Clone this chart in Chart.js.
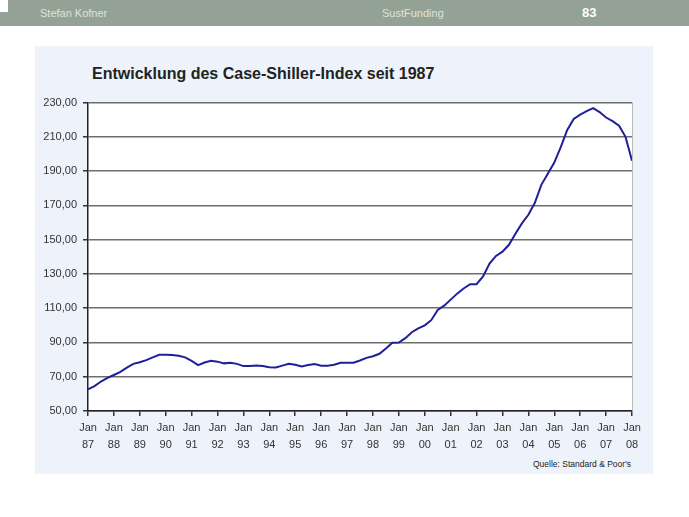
<!DOCTYPE html>
<html>
<head>
<meta charset="utf-8">
<script src="https://cdn.jsdelivr.net/npm/chart.js@4.4.1/dist/chart.umd.min.js"></script>
<style>
  body { margin: 0; width: 689px; height: 517px; background: #fff; position: relative; overflow: hidden; font-family: "Liberation Sans", Arial, sans-serif; }
  .kopf { position: absolute; left: 0; top: 0; width: 689px; height: 26px; background: #94a295; }
  .kopf span { position: absolute; top: 7px; font-size: 11px; color: #dde4dd; }
  .ecke { position: absolute; left: 0; top: 0; width: 8px; height: 12px; background: #fff; }
  .panel { position: absolute; left: 35px; top: 46px; width: 618px; height: 428px; background: #eef3fb; }
  .titel { position: absolute; left: 92px; top: 65px; font-size: 16px; font-weight: bold; color: #222; }
  .quelle { position: absolute; left: 533px; top: 459px; font-size: 8.5px; color: #222; }
  .caixa { position: absolute; left: 35px; top: 90px; width: 618px; height: 361px; }
</style>
</head>
<body>
<div class="kopf">
  <div class="ecke"></div>
  <span style="left:40px">Stefan Kofner</span>
  <span style="left:382px">SustFunding</span>
  <span style="left:582px; top:5px; font-size:13px; font-weight:bold; color:#fff">83</span>
</div>
<div class="panel"></div>
<div class="titel">Entwicklung des Case-Shiller-Index seit 1987</div>
<div class="quelle">Quelle: Standard &amp; Poor's</div>
<div class="caixa">
  <canvas id="grafico"></canvas>
</div>
<script>
// Quartale Jan 87 .. Jan 08
const meses = ['Jan', 'Apr', 'Jul', 'Okt'];
const anos = [];
for (let a = 1987; a <= 2007; a++) anos.push(a);

const rotulos = [];
anos.forEach(a => meses.forEach(m => rotulos.push(m + ' ' + String(a).slice(2))));
rotulos.push('Jan 08');

// Case-Shiller-Index
const indice = [
  62.6, 64.5, 67.2, 69.3,
  71.0, 72.8, 75.3, 77.5,
  78.5, 79.7, 81.3, 82.8,
  82.8, 82.7, 82.2, 81.3,
  79.2, 76.8, 78.3, 79.3,
  78.8, 77.8, 78.2, 77.5,
  76.2, 76.2, 76.6, 76.3,
  75.6, 75.4, 76.5, 77.6,
  77.0, 76.0, 76.8, 77.4,
  76.4, 76.4, 77.0, 78.2,
  78.2, 78.2, 79.5, 81.0,
  82.0, 83.4, 86.5, 89.8,
  90.0, 92.5, 96.0, 98.2,
  100.0, 103.0, 109.0, 111.5,
  115.0, 118.5, 121.5, 124.0,
  124.0, 128.5, 136.0, 140.5,
  143.0, 147.0, 153.5, 159.5,
  164.5, 171.5, 182.0, 188.5,
  195.0, 204.0, 214.0, 220.5,
  223.0, 225.0, 226.8, 224.5,
  221.3, 219.2, 216.5, 210.0,
  196.0
];

const canvas = document.getElementById('grafico');
canvas.width = 618;
canvas.height = 361;

// weisser Hintergrund der Zeichenfläche und Rahmen rechts
const fundoBranco = {
  id: 'fundoBranco',
  beforeDraw(chart) {
    const { ctx, chartArea } = chart;
    ctx.save();
    ctx.fillStyle = '#ffffff';
    ctx.fillRect(chartArea.left, chartArea.top, chartArea.right - chartArea.left, chartArea.bottom - chartArea.top);
    ctx.restore();
  },
  afterDatasetsDraw(chart) {
    const { ctx, chartArea } = chart;
    ctx.save();
    ctx.strokeStyle = '#b8b8b8';
    ctx.lineWidth = 1;
    ctx.beginPath();
    ctx.moveTo(chartArea.right + 0.5, chartArea.top);
    ctx.lineTo(chartArea.right + 0.5, chartArea.bottom);
    ctx.stroke();
    ctx.restore();
  }
};

new Chart(canvas.getContext('2d'), {
  type: 'line',
  data: {
    labels: rotulos,
    datasets: [{
      data: indice,
      borderColor: '#1f1f99',
      borderWidth: 2,
      pointRadius: 0,
      tension: 0,
      fill: false
    }]
  },
  options: {
    responsive: false,
    animation: false,
    layout: { padding: { left: 0, right: 21, top: 10, bottom: 0 } },
    plugins: {
      legend: { display: false },
      tooltip: { enabled: false }
    },
    scales: {
      y: {
        min: 50,
        max: 230,
        afterFit(scale) { scale.width = 53; },
        ticks: {
          stepSize: 20,
          padding: 6,
          color: '#333',
          font: { family: 'Liberation Sans, Arial', size: 11 },
          callback: v => v.toFixed(2).replace('.', ',')
        },
        grid: {
          color: '#6e6e6e',
          lineWidth: 1.5,
          tickLength: 5,
          tickColor: '#333'
        },
        border: { color: '#222', width: 1.5 }
      },
      x: {
        afterFit(scale) { scale.height = 40; },
        ticks: {
          autoSkip: false,
          maxRotation: 0,
          padding: 4,
          color: '#333',
          font: { family: 'Liberation Sans, Arial', size: 11, lineHeight: 1.5 },
          callback: function(value) {
            const r = rotulos[value];
            if (!r.startsWith('Jan')) return null;
            return r.split(' ');
          }
        },
        grid: {
          drawOnChartArea: false,
          tickLength: 5,
          color: '#333',
          lineWidth: 1.5
        },
        border: { color: '#222', width: 1.5 }
      }
    }
  },
  plugins: [fundoBranco]
});
</script>
</body>
</html>
